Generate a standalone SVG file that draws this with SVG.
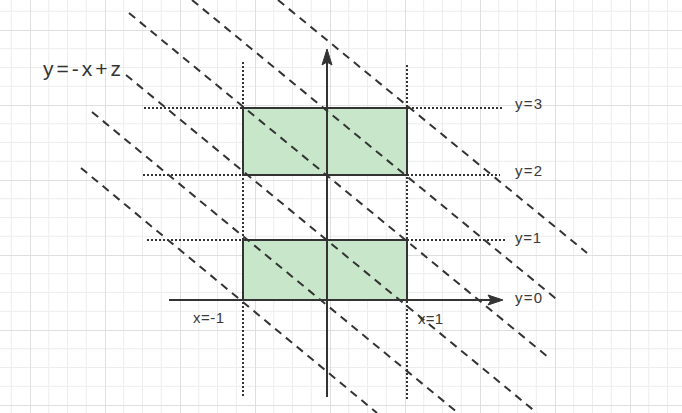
<svg xmlns="http://www.w3.org/2000/svg" width="682" height="413" viewBox="0 0 682 413">
<style>
.dash{fill:none;stroke:#333;stroke-width:2;stroke-dasharray:8 6}
.dot{fill:none;stroke:#333;stroke-width:2;stroke-dasharray:2 2}
.axis{fill:none;stroke:#333;stroke-width:2}
.head{fill:#333;stroke:#333;stroke-width:1}
.box{fill:#c8e6c9;stroke:#333;stroke-width:2}
.lbl{font-family:"Liberation Sans",Arial,sans-serif;font-size:15px;fill:#3a3a3a}
.big{font-family:"Liberation Sans",Arial,sans-serif;font-size:21px;fill:#333}
</style>
<defs>
<pattern id="grid" patternUnits="userSpaceOnUse" x="30" y="30" width="75" height="75">
<path d="M18.75 0V75M37.5 0V75M56.25 0V75M0 18.75H75M0 37.5H75M0 56.25H75" fill="none" stroke="#ededed" stroke-width="1"/>
<path d="M0.5 0V75M0 0.5H75" fill="none" stroke="#dfdfdf" stroke-width="1"/>
</pattern>
</defs>
<rect width="682" height="413" fill="#ffffff"/>
<rect width="682" height="413" fill="url(#grid)"/>
<g id="rect-top"><rect class="box" x="243" y="108" width="164" height="67"/></g>
<g id="rect-bottom"><rect class="box" x="243" y="240" width="164" height="60"/></g>
<g id="connectors">
<line class="dash" x1="129" y1="13" x2="548" y2="357"/>
<line class="dash" x1="192" y1="0" x2="560" y2="302"/>
<line class="dash" x1="278" y1="0" x2="587" y2="253"/>
<line class="dash" x1="126" y1="75" x2="537" y2="413"/>
<line class="dash" x1="92" y1="112" x2="458" y2="413"/>
<line class="dash" x1="81" y1="168" x2="377" y2="413"/>
<line class="dot" x1="144" y1="108" x2="502" y2="108"/>
<line class="dot" x1="143" y1="175" x2="500" y2="175"/>
<line class="dot" x1="147" y1="240" x2="505" y2="240"/>
<line class="dot" x1="243" y1="62" x2="243" y2="398"/>
<line class="dot" x1="407" y1="65" x2="407" y2="400"/>
<line class="axis" x1="327" y1="397" x2="327" y2="60"/>
<path class="head" d="M327 49L332 65L327 62L322 65Z"/>
<line class="axis" x1="169" y1="300" x2="492" y2="300"/>
<path class="head" d="M503 300L488 305L491 300L488 295Z"/>
</g>
<g id="label-eq"><text class="big" x="43" y="76" textLength="78" lengthAdjust="spacing">y=-x+z</text></g>
<g id="label-y3"><text class="lbl" x="515" y="109" textLength="27" lengthAdjust="spacing">y=3</text></g>
<g id="label-y2"><text class="lbl" x="515" y="176" textLength="27" lengthAdjust="spacing">y=2</text></g>
<g id="label-y1"><text class="lbl" x="515" y="243" textLength="26" lengthAdjust="spacing">y=1</text></g>
<g id="label-y0"><text class="lbl" x="515" y="303" textLength="27" lengthAdjust="spacing">y=0</text></g>
<g id="label-xm1"><text class="lbl" x="193" y="323" textLength="31" lengthAdjust="spacing">x=-1</text></g>
<g id="label-x1"><text class="lbl" x="418" y="324" textLength="25" lengthAdjust="spacing">x=1</text></g>
</svg>
